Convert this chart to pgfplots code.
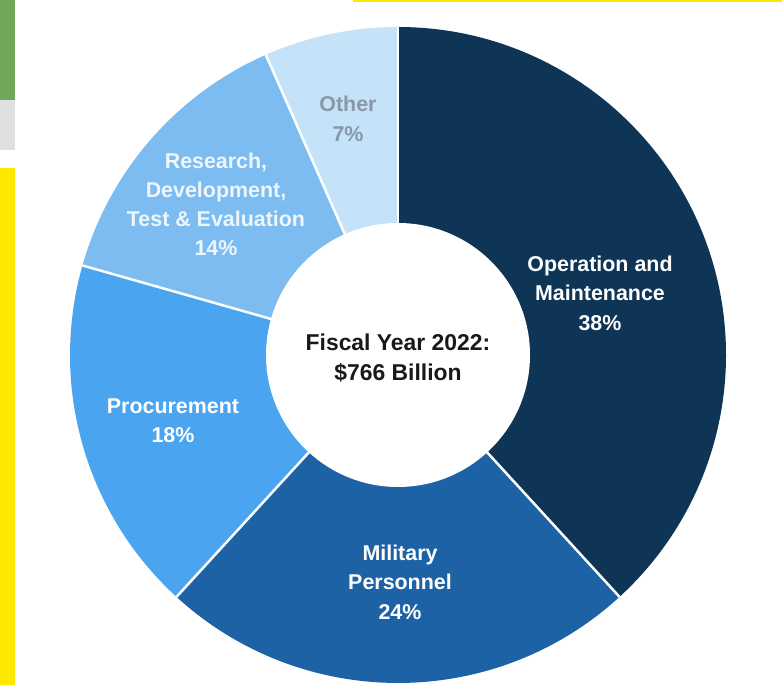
\documentclass[border=0pt]{standalone}
\usepackage{pgfplots}
\pgfplotsset{compat=1.18}
\usepackage{pgfplotstable}
\usepackage{fontspec}
\setmainfont{Liberation Sans}
\definecolor{cOM}{HTML}{0E3456}
\definecolor{cMP}{HTML}{1E62A6}
\definecolor{cPR}{HTML}{4AA4F0}
\definecolor{cRD}{HTML}{7CBCF0}
\definecolor{cOT}{HTML}{C4E2F8}
\definecolor{tOT}{HTML}{8898A8}
\definecolor{tRD}{HTML}{EEF6FD}
\definecolor{ygreen}{HTML}{6FA85A}
\definecolor{yyel}{HTML}{FFE800}

% share of each category (percent, as drawn)
\pgfplotstableread{
share
38.2
23.6
17.6
14.0
6.6
}\budget
\pgfplotstablegetelem{0}{share}\of\budget \let\sA\pgfplotsretval
\pgfplotstablegetelem{1}{share}\of\budget \let\sB\pgfplotsretval
\pgfplotstablegetelem{2}{share}\of\budget \let\sC\pgfplotsretval
\pgfplotstablegetelem{3}{share}\of\budget \let\sD\pgfplotsretval
\pgfplotstablegetelem{4}{share}\of\budget \let\sE\pgfplotsretval
\pgfmathsetmacro\tA{90}
\pgfmathsetmacro\tB{\tA-3.6*\sA}
\pgfmathsetmacro\tC{\tB-3.6*\sB}
\pgfmathsetmacro\tD{\tC-3.6*\sC}
\pgfmathsetmacro\tE{\tD-3.6*\sD}
\pgfmathsetmacro\tF{\tE-3.6*\sE}
\def\rOut{328bp}
\def\rIn{132bp}

\begin{document}
\begin{tikzpicture}
\begin{axis}[width=782bp,height=685bp,scale only axis,
  xmin=0,xmax=782,ymin=0,ymax=685,hide axis,clip=false]
% background
\fill[white] (axis cs:0,0) rectangle (axis cs:782,685);
\fill[yyel] (axis cs:0,0) rectangle (axis cs:15,517);
\fill[ygreen] (axis cs:0,585) rectangle (axis cs:15,685);
\fill[black!12] (axis cs:0,535) rectangle (axis cs:15,585);
\fill[yyel] (axis cs:353,683.3) rectangle (axis cs:782,685);
% wedges
\coordinate (c) at (axis cs:398,330);
\fill[cOM] (c) -- ++(\tA:\rOut) arc[start angle=\tA,end angle=\tB,radius=\rOut] -- cycle;
\fill[cMP] (c) -- ++(\tB:\rOut) arc[start angle=\tB,end angle=\tC,radius=\rOut] -- cycle;
\fill[cPR] (c) -- ++(\tC:\rOut) arc[start angle=\tC,end angle=\tD,radius=\rOut] -- cycle;
\fill[cRD] (c) -- ++(\tD:\rOut) arc[start angle=\tD,end angle=\tE,radius=\rOut] -- cycle;
\fill[cOT] (c) -- ++(\tE:\rOut) arc[start angle=\tE,end angle=\tF,radius=\rOut] -- cycle;
\draw[white,line width=2.5bp] (c) -- ++(\tA:\rOut);
\draw[white,line width=2.5bp] (c) -- ++(\tB:\rOut);
\draw[white,line width=2.5bp] (c) -- ++(\tC:\rOut);
\draw[white,line width=2.5bp] (c) -- ++(\tD:\rOut);
\draw[white,line width=2.5bp] (c) -- ++(\tE:\rOut);
\fill[white] (c) circle[radius=\rIn];
% labels
\node[align=center,text=white,font=\bfseries\fontsize{21.5}{29.5}\selectfont] at (axis cs:600,392) {Operation and\\Maintenance\\38\%};
\node[align=center,text=white,font=\bfseries\fontsize{21.5}{29.5}\selectfont] at (axis cs:400,103) {Military\\Personnel\\24\%};
\node[align=center,text=white,font=\bfseries\fontsize{21.5}{29.5}\selectfont] at (axis cs:173,264) {Procurement\\18\%};
\node[align=center,text=tRD,font=\bfseries\fontsize{21.5}{29}\selectfont] at (axis cs:216,481) {Research,\\Development,\\Test \& Evaluation\\14\%};
\node[align=center,text=tOT,font=\bfseries\fontsize{21.5}{30}\selectfont] at (axis cs:348,566) {Other\\7\%};
\node[align=center,text=black!90,font=\bfseries\fontsize{23}{30}\selectfont] at (axis cs:398,327) {Fiscal Year 2022:\\\$766 Billion};
\end{axis}
\pgfresetboundingbox
\path (current axis.south west) rectangle (current axis.north east);
\end{tikzpicture}
\end{document}
